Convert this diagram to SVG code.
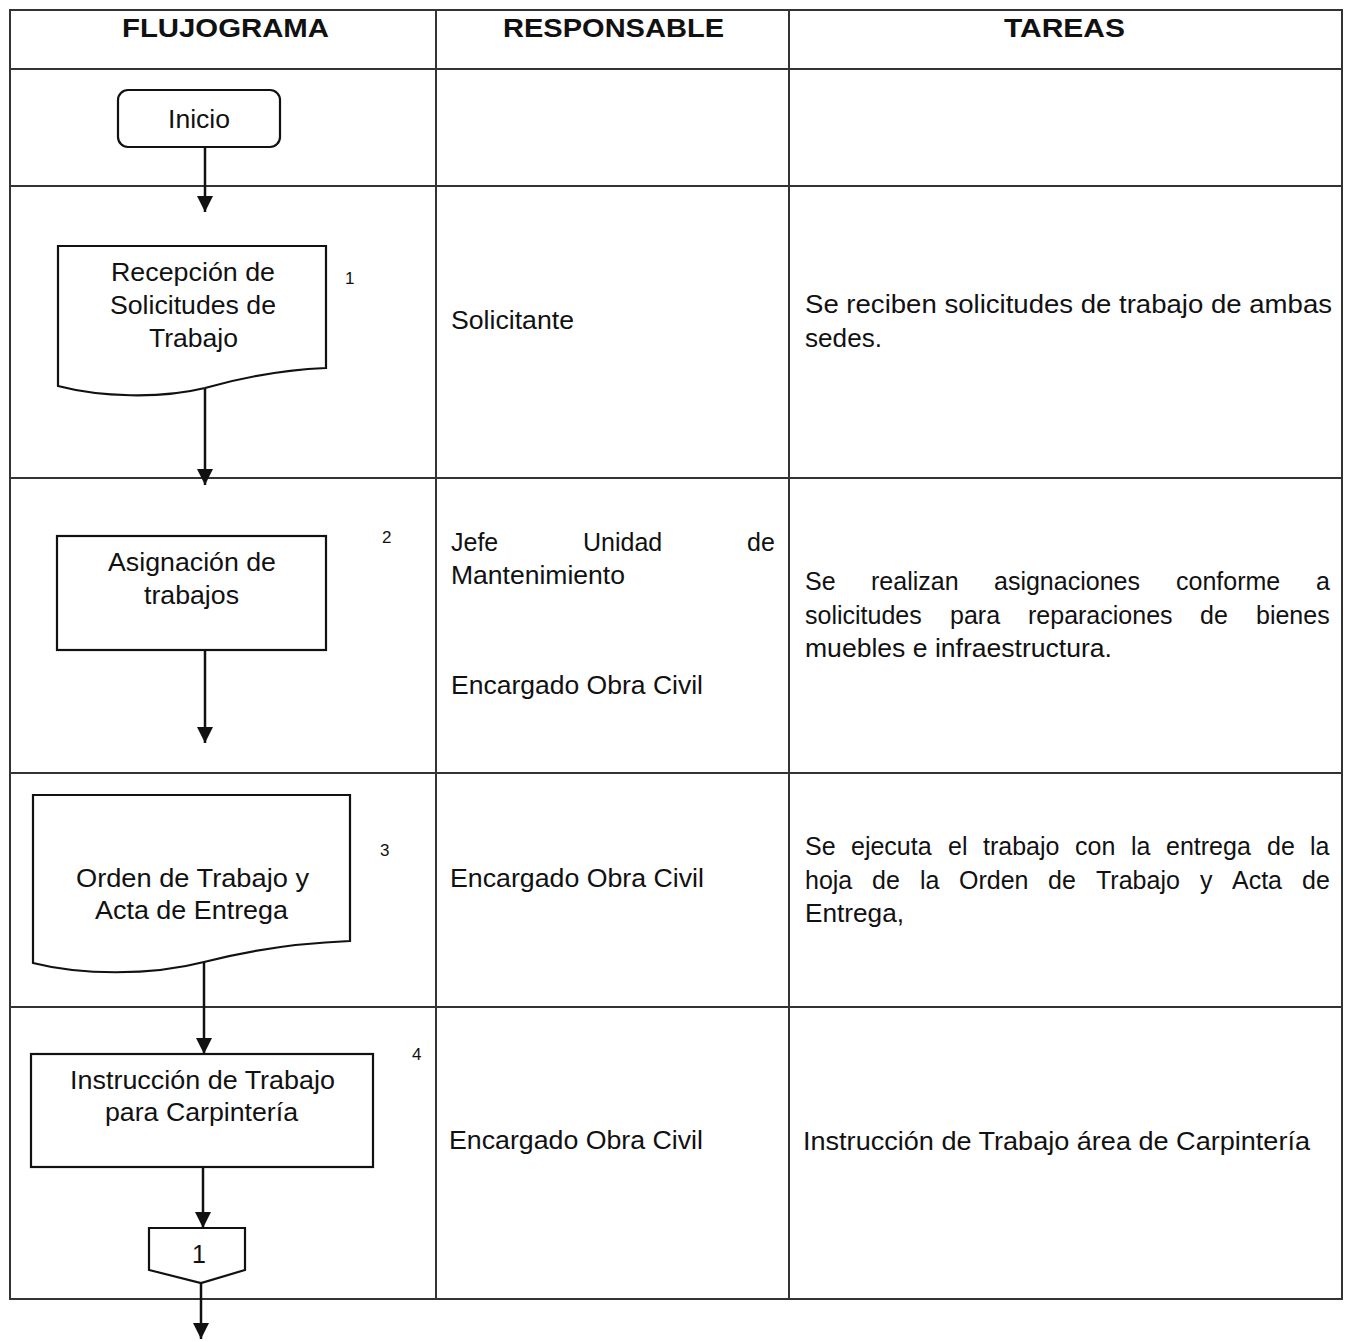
<svg xmlns="http://www.w3.org/2000/svg" width="1350" height="1342" viewBox="0 0 1350 1342">
<style>
.grid{stroke:#333;stroke-width:2;fill:none}
.shape{stroke:#111;stroke-width:2.2;fill:#fff}
.conn{stroke:#111;stroke-width:2.5;fill:none}
text{font-family:"Liberation Sans",Arial,sans-serif;fill:#111}
.h{font-size:26px;font-weight:bold}
.t{font-size:25px}
.n{font-size:17px}
</style>
<defs>
<marker id="ah" markerUnits="userSpaceOnUse" markerWidth="16" markerHeight="16" refX="16" refY="8" orient="auto">
<path d="M0,0 L16,8 L0,16 z" fill="#111"/>
</marker>
</defs>
<rect width="1350" height="1342" fill="#fff"/>
<g id="table">
<rect class="grid" x="10" y="10" width="1332" height="1289"/>
<line class="grid" x1="436" y1="10" x2="436" y2="1299"/>
<line class="grid" x1="789" y1="10" x2="789" y2="1299"/>
<line class="grid" x1="10" y1="69" x2="1342" y2="69"/>
<line class="grid" x1="10" y1="186" x2="1342" y2="186"/>
<line class="grid" x1="10" y1="478" x2="1342" y2="478"/>
<line class="grid" x1="10" y1="773" x2="1342" y2="773"/>
<line class="grid" x1="10" y1="1007" x2="1342" y2="1007"/>
<text class="h" x="122" y="37" textLength="207" lengthAdjust="spacingAndGlyphs">FLUJOGRAMA</text>
<text class="h" x="503" y="37" textLength="221" lengthAdjust="spacingAndGlyphs">RESPONSABLE</text>
<text class="h" x="1004" y="37" textLength="121" lengthAdjust="spacingAndGlyphs">TAREAS</text>
</g>
<g id="connectors">
<line class="conn" x1="205" y1="147" x2="205" y2="212" marker-end="url(#ah)"/>
<line class="conn" x1="205" y1="388" x2="205" y2="485" marker-end="url(#ah)"/>
<line class="conn" x1="205" y1="650" x2="205" y2="743" marker-end="url(#ah)"/>
<line class="conn" x1="204" y1="962" x2="204" y2="1054" marker-end="url(#ah)"/>
<line class="conn" x1="203" y1="1167" x2="203" y2="1228" marker-end="url(#ah)"/>
<line class="conn" x1="201" y1="1283" x2="201" y2="1339" marker-end="url(#ah)"/>
</g>
<g id="inicio">
<rect class="shape" x="118" y="90" width="162" height="57" rx="10"/>
<text class="t" x="168" y="128" textLength="62" lengthAdjust="spacingAndGlyphs">Inicio</text>
</g>
<g id="step1">
<path class="shape" d="M58,246 H326 V368 C280,370 240,378 205,388 C160,399 100,397 58,386 Z"/>
<text class="t" x="111" y="281" textLength="164" lengthAdjust="spacingAndGlyphs">Recepción de</text>
<text class="t" x="110" y="314" textLength="166" lengthAdjust="spacingAndGlyphs">Solicitudes de</text>
<text class="t" x="149" y="347" textLength="89" lengthAdjust="spacingAndGlyphs">Trabajo</text>
<text class="n" x="345" y="284">1</text>
</g>
<g id="step2">
<rect class="shape" x="57" y="536" width="269" height="114"/>
<text class="t" x="108" y="571" textLength="168" lengthAdjust="spacingAndGlyphs">Asignación de</text>
<text class="t" x="144" y="604" textLength="95" lengthAdjust="spacingAndGlyphs">trabajos</text>
<text class="n" x="382" y="543">2</text>
</g>
<g id="step3">
<path class="shape" d="M33,795 H350 V941 C300,943 250,950 204,962 C150,976 80,975 33,963 Z"/>
<text class="t" x="76" y="887" textLength="233" lengthAdjust="spacingAndGlyphs">Orden de Trabajo y</text>
<text class="t" x="95" y="919" textLength="193" lengthAdjust="spacingAndGlyphs">Acta de Entrega</text>
<text class="n" x="380" y="856">3</text>
</g>
<g id="step4">
<rect class="shape" x="31" y="1054" width="342" height="113"/>
<text class="t" x="70" y="1089" textLength="265" lengthAdjust="spacingAndGlyphs">Instrucción de Trabajo</text>
<text class="t" x="105" y="1121" textLength="193" lengthAdjust="spacingAndGlyphs">para Carpintería</text>
<text class="n" x="412" y="1060">4</text>
</g>
<g id="offpage1">
<path class="shape" d="M149,1228 H245 V1270 L201,1283 L149,1270 Z"/>
<text class="t" x="192" y="1263">1</text>
</g>
<g id="responsable">
<text class="t" x="451" y="329" textLength="123" lengthAdjust="spacingAndGlyphs">Solicitante</text>
<text class="t" y="551"><tspan x="451">Jefe</tspan><tspan x="583">Unidad</tspan><tspan x="747">de</tspan></text>
<text class="t" x="451" y="584" textLength="174" lengthAdjust="spacingAndGlyphs">Mantenimiento</text>
<text class="t" x="451" y="694" textLength="252" lengthAdjust="spacingAndGlyphs">Encargado Obra Civil</text>
<text class="t" x="450" y="887" textLength="254" lengthAdjust="spacingAndGlyphs">Encargado Obra Civil</text>
<text class="t" x="449" y="1149" textLength="254" lengthAdjust="spacingAndGlyphs">Encargado Obra Civil</text>
</g>
<g id="tareas">
<text class="t" x="805" y="313" textLength="527" lengthAdjust="spacingAndGlyphs">Se reciben solicitudes de trabajo de ambas</text>
<text class="t" x="805" y="347" textLength="77" lengthAdjust="spacingAndGlyphs">sedes.</text>
<text class="t" y="590"><tspan x="805">Se</tspan><tspan x="871">realizan</tspan><tspan x="994">asignaciones</tspan><tspan x="1176">conforme</tspan><tspan x="1316">a</tspan></text>
<text class="t" y="624"><tspan x="805">solicitudes</tspan><tspan x="950">para</tspan><tspan x="1028">reparaciones</tspan><tspan x="1200">de</tspan><tspan x="1256">bienes</tspan></text>
<text class="t" x="805" y="657" textLength="307" lengthAdjust="spacingAndGlyphs">muebles e infraestructura.</text>
<text class="t" y="855"><tspan x="805">Se</tspan><tspan x="851">ejecuta</tspan><tspan x="948">el</tspan><tspan x="983">trabajo</tspan><tspan x="1075">con</tspan><tspan x="1131">la</tspan><tspan x="1166">entrega</tspan><tspan x="1267">de</tspan><tspan x="1310">la</tspan></text>
<text class="t" y="889"><tspan x="805">hoja</tspan><tspan x="872">de</tspan><tspan x="920">la</tspan><tspan x="959">Orden</tspan><tspan x="1048">de</tspan><tspan x="1096">Trabajo</tspan><tspan x="1200">y</tspan><tspan x="1232">Acta</tspan><tspan x="1302">de</tspan></text>
<text class="t" x="805" y="922" textLength="99" lengthAdjust="spacingAndGlyphs">Entrega,</text>
<text class="t" x="803" y="1150" textLength="507" lengthAdjust="spacingAndGlyphs">Instrucción de Trabajo área de Carpintería</text>
</g>
</svg>
